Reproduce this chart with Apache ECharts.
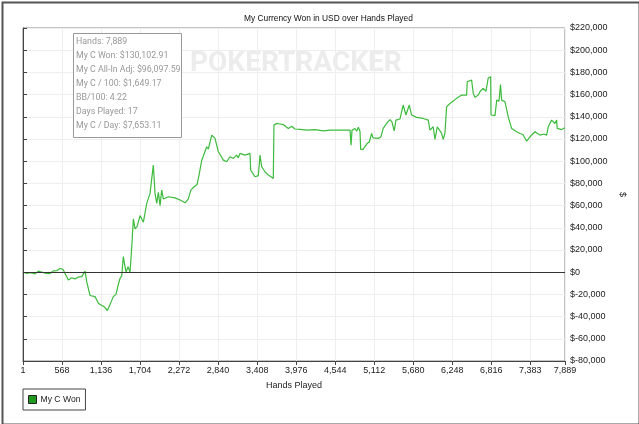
<!DOCTYPE html>
<html>
<head>
<meta charset="utf-8">
<script src="https://cdn.jsdelivr.net/npm/echarts@6/dist/echarts.min.js"></script>
<style>
html,body{margin:0;padding:0;background:#fff;}
#c{width:639px;height:424px;}
</style>
</head>
<body>
<div id="c"></div>
<script>
var chartTitle = 'My Currency Won in USD over Hands Played';
var seriesName = 'My C Won';
var xAxisName = 'Hands Played';
var yAxisName = '$';
var statLines = [
  'Hands: 7,889',
  'My C Won: $130,102.91',
  'My C All-In Adj: $96,097.59',
  'My C / 100: $1,649.17',
  'BB/100: 4.22',
  'Days Played: 17',
  'My C / Day: $7,653.11'
];
var xTickLabels = {0: '1', 7384: '7,383'};

var hands = [1,55,117,176,224,277,336,394,442,496,539,583,612,660,710,758,801,855,903,928,976,1005,1049,1097,1146,1180,1228,1267,1315,1354,1383,1412,1437,1460,1485,1500,1529,1558,1583,1606,1631,1660,1704,1752,1801,1849,1897,1922,1947,1970,1995,2019,2043,2116,2213,2286,2359,2407,2442,2490,2533,2562,2602,2621,2674,2698,2747,2770,2795,2843,2868,2916,2965,3013,3061,3110,3134,3158,3231,3304,3314,3377,3402,3425,3450,3474,3522,3571,3610,3643,3653,3692,3740,3789,3828,3862,3911,3959,4032,4129,4250,4371,4469,4614,4760,4775,4789,4833,4857,4881,4905,4915,4949,4978,5011,5041,5075,5094,5123,5171,5210,5243,5293,5341,5370,5403,5428,5486,5534,5574,5622,5657,5730,5826,5899,5923,5971,5996,6030,6054,6093,6117,6141,6166,6214,6312,6385,6457,6466,6530,6554,6579,6627,6651,6699,6739,6772,6807,6812,6870,6895,6928,6950,6967,7015,7063,7112,7185,7233,7277,7331,7379,7452,7524,7583,7622,7645,7694,7742,7767,7776,7840,7889];
var won = [0,-1200,-500,-1500,1000,0,-1000,-1200,1200,1500,3300,2500,1800,-7000,-5000,-6000,-4500,-4000,1000,-8700,-21000,-22500,-22000,-28000,-30000,-31000,-34500,-29000,-22000,-20000,-12000,-5700,-3300,14000,5000,0,5000,0,23000,48000,39000,41000,51000,45000,62000,71000,96500,71000,62000,72000,60000,74000,66000,68000,67000,65000,62500,66000,74000,77000,79000,87500,101000,104000,113000,111000,123500,122000,120500,108500,106000,101000,99500,104000,102500,105500,103000,107000,105500,107000,92000,86000,84500,87000,105500,95000,90500,87500,86000,84500,132500,134000,133500,133000,131000,129500,131500,129000,128700,128000,128500,127400,128000,128000,128000,114500,128000,129500,127000,130500,127000,110600,110600,109400,116000,117500,125000,121000,122000,120500,122000,129500,134000,137500,135500,127400,137000,138000,150600,141600,150600,141600,139500,138500,137000,128000,131000,119600,131000,130000,125000,119600,125000,149000,152000,156600,159600,159600,171600,173000,161000,157500,159600,162600,165600,163000,175000,176000,141600,141000,155000,154000,169000,155000,153600,140000,129500,126500,125000,124000,118000,122000,126500,123500,124500,123500,131000,137000,134000,137000,129500,128500,130102.91];

var data = hands.map(function(h, i){ return [h, won[i]]; });

var chart = echarts.init(document.getElementById('c'), null, {renderer: 'canvas'});
var font = 'Liberation Sans, Arial, sans-serif';

var statGraphics = [{
  type: 'rect', left: 73, top: 33, z: 100,
  shape: {x: 0, y: 0, width: 108, height: 104},
  style: {fill: '#fff', stroke: '#999', lineWidth: 1}
}];
statLines.forEach(function(t, i){
  statGraphics.push({type: 'text', left: 76, top: 37 + i * 14, z: 101,
    style: {text: t, fill: '#999', font: '8.8px "Roboto", sans-serif'}});
});

chart.setOption({
  backgroundColor: '#fff',
  animation: false,
  title: {
    text: chartTitle, left: 239, top: 10,
    textStyle: {fontSize: 8.4, fontWeight: 'normal', color: '#111', fontFamily: font}
  },
  grid: {left: 23, right: 74, top: 28, bottom: 63, show: true, borderColor: '#888', borderWidth: 1, containLabel: false},
  legend: {
    left: 23, top: 389, padding: [6, 5, 6, 5], orient: 'horizontal',
    borderColor: '#444', borderWidth: 1, borderRadius: 0,
    itemWidth: 8, itemHeight: 8, icon: 'rect', itemGap: 4,
    data: [{name: seriesName, itemStyle: {color: '#1f9a1f', borderColor: '#222', borderWidth: 1}}],
    textStyle: {fontSize: 8.6, color: '#222', fontFamily: font, padding: [0, 0, 0, -1]}
  },
  xAxis: {
    type: 'value', min: 0, max: 7889, interval: 568,
    name: xAxisName, nameLocation: 'middle', nameGap: 20,
    nameTextStyle: {fontSize: 9, color: '#222', fontFamily: font},
    axisLine: {show: true, onZero: false, lineStyle: {color: '#444', width: 1}},
    axisTick: {show: true, length: 4, lineStyle: {color: '#444'}},
    axisLabel: {fontSize: 9, color: '#222', fontFamily: font, margin: 5, showMaxLabel: true,
      formatter: function(v){ return xTickLabels[v] !== undefined ? xTickLabels[v] : v.toLocaleString('en-US'); }},
    splitLine: {show: true, lineStyle: {color: '#eeeeee', width: 1}}
  },
  yAxis: {
    type: 'value', position: 'right', min: -80000, max: 220000, interval: 20000,
    name: yAxisName, nameLocation: 'middle', nameGap: 32, nameRotate: -90,
    nameTextStyle: {fontSize: 9, color: '#222', fontFamily: font},
    axisLine: {show: true, lineStyle: {color: '#444', width: 1}},
    axisTick: {show: true, length: 4, lineStyle: {color: '#444'}},
    axisLabel: {fontSize: 9, color: '#222', fontFamily: font, margin: 5,
      formatter: function(v){ return '$' + v.toLocaleString('en-US'); }},
    splitLine: {show: true, lineStyle: {color: '#eeeeee', width: 1}}
  },
  series: [{
    name: seriesName, type: 'line', data: data, showSymbol: false, symbol: 'none',
    itemStyle: {color: '#1f9a1f'},
    lineStyle: {color: '#3cbb3c', width: 1.2},
    markLine: {
      silent: true, symbol: ['none', 'none'], label: {show: false},
      lineStyle: {color: '#333', width: 1, type: 'solid'},
      data: [{yAxis: 0}]
    },
    z: 3
  }],
  graphic: [
    {type: 'text', left: 190, top: 50, z: 0,
      style: {text: 'POKERTRACKER', fill: '#ececec', font: 'bold 28px "Roboto", sans-serif'}}
  ].concat(statGraphics).concat([
    {type: 'rect', left: 0, top: 0, z: 200,
      shape: {x: 0, y: 0, width: 637, height: 422},
      style: {fill: 'none', stroke: '#555', lineWidth: 2}}
  ])
});
</script>
</body>
</html>
